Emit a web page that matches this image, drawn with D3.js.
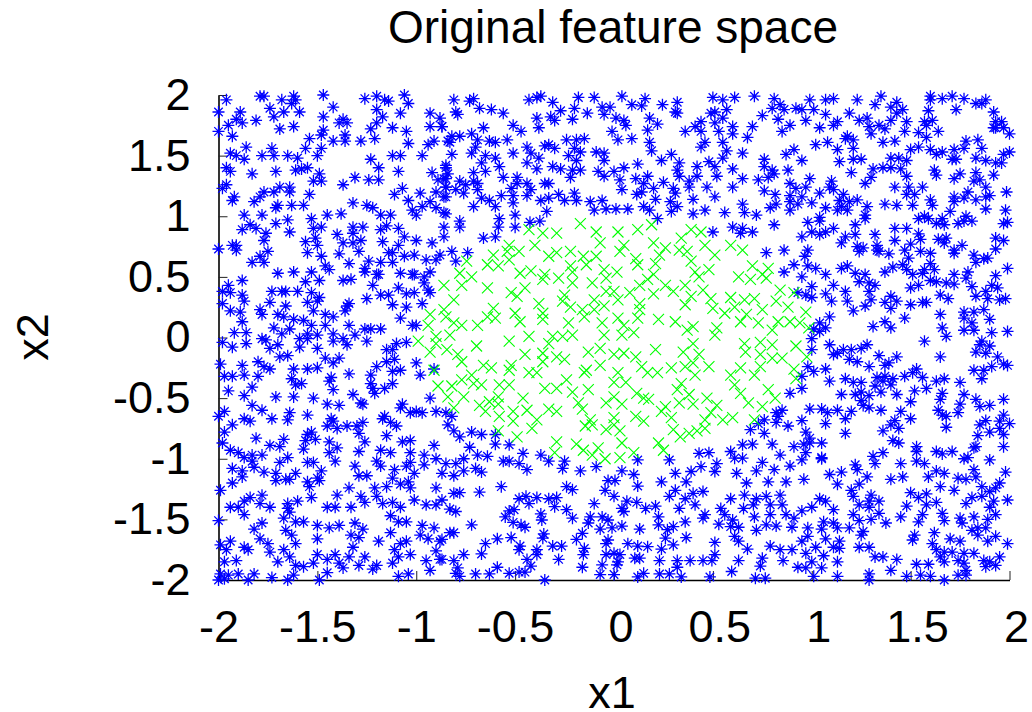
<!DOCTYPE html>
<html><head><meta charset="utf-8">
<script src="https://cdn.jsdelivr.net/npm/d3@7"></script>
<style>html,body{margin:0;padding:0;background:#fff}svg{display:block}text{font-family:"Liberation Sans",Arial,sans-serif;fill:#000}</style>
</head><body><svg id="chart" width="1032" height="712"></svg>
<script>
const titleText="Original feature space", xLabel="x1", yLabel="x2";
const tickValues=[-2,-1.5,-1,-0.5,0,0.5,1,1.5,2];
const tickLabels=["-2","-1.5","-1","-0.5","0","0.5","1","1.5","2"];
const greenPoints=[[-.17,.94],[-.09,.87],[.02,.87],[.12,.89],[.19,.93],[.39,.89],[.44,.87],[-.43,.89],[-.36,.86],[-.29,.86],[.34,.82],[.2,.78],[-.07,.78],[-.53,.76],[-.4,.76],[.05,.76],[.46,.76],[.59,.76],
[-.61,.68],[-.48,.71],[-.54,.71],[-.33,.67],[-.29,.7],[-.22,.71],[-.155,.67],[-.09,.67],[.03,.71],[.26,.74],[.23,.68],[.33,.72],[.37,.71],[.51,.68],[.65,.72],
[-.745,.63],[-.64,.6],[-.585,.59],[-.53,.64],[.11,.65],[.12,.6],[.21,.61],[.39,.63],[.7,.59],[-.14,.6],[-.22,.59],
[-.78,.53],[-.72,.5],[-.475,.53],[-.42,.55],[-.35,.52],[-.28,.49],[-.21,.54],[-.05,.56],[.015,.54],[.2,.52],[.41,.54],[.48,.56],[.78,.57],[.75,.52],
[-.86,.43],[-.77,.43],[-.64,.41],[-.45,.41],[-.36,.48],[-.21,.45],[-.11,.45],[-.04,.49],[.17,.48],[.13,.43],[.26,.43],[.43,.5],[.36,.43],[.63,.5],[.69,.48],[.77,.49],
[-.52,.37],[-.49,.34],[-.25,.35],[-.04,.38],[0,.38],[.08,.37],[.2,.36],[.3,.38],[.45,.39],[.84,.39],[.91,.37],[.39,.34],
[-.81,.31],[-.38,.28],[-.26,.3],[-.1,.31],[.02,.31],[.13,.28],[.49,.32],[.59,.33],[.66,.31],[.71,.32],[.36,.27],
[-.61,.24],[-.86,.23],[-.22,.25],[-.16,.23],[-.1,.23],[-.05,.26],[.5,.24],[.61,.25],[.75,.23],[.88,.25],[.82,.3],[.13,.23],
[-.93,.19],[-.64,.17],[-.6,.16],[-.5,.2],[-.36,.2],[-.15,.17],[.02,.16],[.12,.16],[.225,.15],[.56,.2],[.67,.19],[.97,.21],[-.85,.17],
[-.94,.1],[-.81,.12],[-.77,.1],[-.69,.1],[-.475,.13],[-.36,.15],[-.23,.12],[-.06,.12],[.05,.1],[.31,.13],[.4,.09],[.52,.08],[.64,.13],[.73,.12],[.83,.13],[.89,.13],[.94,.12],
[-.83,.02],[-.9,.01],[-.53,-.03],[-.43,.01],[-.31,.01],[-.26,.01],[-.21,.02],[-.05,.02],[.04,.02],[.1,.04],[.37,.06],[.51,.02],[.8,.06],[.985,.08],
[-.99,-.03],[-.9,-.05],[-.695,-.07],[-.33,-.05],[-.07,-.09],[.4,-.05],[.66,-.05],[.74,-.04],[.8,-.06],[.92,-.07],[-.845,-.1],[.21,-.1],
[-.93,-.12],[-.79,-.14],[-.45,-.14],[-.36,-.13],[-.13,-.12],[0,-.14],[.05,-.13],[.35,-.12],[.43,-.14],[.665,-.12],[.74,-.14],[.975,-.16],
[-.77,-.2],[-.29,-.16],[-.25,-.18],[-.36,-.2],[.11,-.16],[.8,-.17],[.85,-.17],[.4,-.21],
[-.91,-.27],[-.66,-.23],[-.62,-.25],[-.52,-.23],[-.53,-.27],[-.07,-.23],[-.14,-.27],[.14,-.24],[.29,-.25],[.36,-.24],[.48,-.24],[.64,-.25],[.74,-.24],[.91,-.26],
[-.72,-.31],[-.43,-.29],[-.39,-.29],[-.15,-.29],[.02,-.29],[.17,-.29],[.22,-.29],[.41,-.31],[.59,-.31],[.71,-.31],[.92,-.34],[-.77,-.35],
[-.24,-.35],[-.89,-.4],[-.82,-.4],[-.71,-.38],[-.67,-.39],[-.58,-.39],[-.53,-.39],[-.35,-.42],[-.29,-.42],[-.21,-.45],[0,-.37],[.06,-.37],[.34,-.38],[.61,-.39],[.32,-.43],
[-.84,-.49],[-.76,-.49],[-.585,-.49],[-.46,-.5],[-.13,-.43],[0,-.49],[.115,-.46],[.15,-.5],[.175,-.51],[.47,-.5],[.64,-.46],[.78,-.43],[.815,-.5],[.38,-.47],
[-.63,-.53],[-.68,-.56],[-.585,-.55],[-.04,-.54],[.04,-.55],[.33,-.54],[.4,-.55],[.52,-.56],[.68,-.54],[.75,-.57],[-.18,-.54],[.26,-.57],[-.81,-.58],
[-.65,-.61],[-.51,-.61],[-.44,-.6],[-.33,-.59],[-.29,-.61],[-.16,-.59],[.24,-.61],[.49,-.62],
[-.58,-.65],[-.51,-.69],[-.39,-.68],[-.12,-.68],[0,-.66],[.11,-.65],[.15,-.69],[.29,-.66],[.46,-.68],[.55,-.68],[.6,-.66],[.71,-.68],
[-.415,-.75],[-.145,-.73],[-.11,-.72],[-.04,-.76],[0,-.72],[.03,-.77],[.3,-.76],[.46,-.75],[.38,-.79],[-.585,-.77],
[-.49,-.82],[.335,-.82],[.42,-.77],[-.29,-.86],[-.19,-.88],[.04,-.87],[.225,-.87],[-.155,-.93],[-.08,-.91],[.25,-.93],[-.3,-.95],[-.11,-.97],[-.045,-1],[.03,-.99],[.1,-.95]];

const blueTopLeft=[[-1.96,1.96],[-1.79,1.99],[-1.77,1.99],[-1.68,1.96],[-1.62,1.99],[-1.61,1.96],[-1.63,1.93],[-1.47,2],[-1.26,1.97],[-1.2,1.99],[-1.16,1.96],[-1.14,1.95],[-1.06,2],[-1.04,1.93],
[-2,1.86],[-1.89,1.86],[-1.74,1.89],[-1.67,1.86],[-1.59,1.86],[-1.42,1.9],[-1.2,1.88],[-1.08,1.85],[-.93,1.85],[-1.91,1.8],[-1.81,1.79],[-1.72,1.82],[-1.47,1.82],[-1.17,1.82],[-.88,1.81],
[-1.95,1.75],[-1.88,1.77],[-1.62,1.74],[-1.69,1.72],[-1.37,1.8],[-1.39,1.77],[-1.35,1.77],[-1.2,1.77],[-1.23,1.72],[-1.12,1.73],[-1.05,1.7],[-.93,1.74],[-.87,1.74],[-2,1.7],[-1.93,1.66],
[-1.47,1.71],[-1.48,1.67],[-1.36,1.67],[-1.54,1.64],[-1.42,1.62],[-1.36,1.62],[-1.28,1.62],[-1.21,1.64],[-1.04,1.6],[-.94,1.59],[-.91,1.62],[-.84,1.62],
[-1.86,1.57],[-1.73,1.56],[-1.56,1.56],[-1.48,1.56],[-1.94,1.52],[-1.91,1.5],[-1.87,1.47],[-1.78,1.5],[-1.72,1.5],[-1.65,1.5],[-1.6,1.48],[-1.5,1.5],[-1.23,1.47],[-1.12,1.5],[-1.08,1.5],[-.97,1.5],
[-1.96,1.4],[-1.94,1.37],[-1.83,1.35],[-1.71,1.37],[-1.61,1.38],[-1.58,1.39],[-1.55,1.4],[-1.49,1.35],[-1.19,1.4],[-1.09,1.37],[-.92,1.36],[-.85,1.4],
[-1.52,1.29],[-1.48,1.29],[-1.37,1.26],[-1.31,1.32],[-1.24,1.3],[-1.19,1.3],[-.89,1.3],[-.85,1.31],
[-1.96,1.26],[-1.98,1.23],[-1.69,1.24],[-1.64,1.24],[-1.64,1.2],[-1.54,1.18],[-1.77,1.2],[-1.72,1.2],[-1.79,1.16],[-1.92,1.16],[-1.93,1.13],[-1.82,1.12],
[-1.07,1.23],[-1.11,1.18],[-1.04,1.13],[-.98,1.19],[-.9,1.2],[-.85,1.16],[-.85,1.24],
[-1.7,1.09],[-1.71,1.07],[-1.63,1.09],[-1.57,1.09],[-1.32,1.11],[-1.25,1.09],[-1.22,1.07],[-.97,1.08],[-.93,1.12],[-1.02,1.05],[-.9,1.07],
[-1.87,1.01],[-1.78,1.01],[-1.53,.98],[-1.45,1.01],[-1.38,1.02],[-1.18,1.01],[-1.13,1.01],[-1,1.01],[-.85,1.02],
[-1.84,.93],[-1.88,.89],[-1.81,.9],[-1.76,.86],[-1.71,.94],[-1.65,.97],[-1.64,.87],[-1.52,.9],[-1.48,.91],[-1.32,.91],[-1.27,.91],[-1.32,.86],[-1.18,.89],[-1.15,.92],[-1.09,.9],[-.86,.91],
[-1.77,.8],[-1.56,.79],[-1.51,.82],[-1.4,.85],[-1.5,.76],[-1.37,.78],[-1.32,.78],[-1.28,.8],[-1.17,.79],[-1.06,.83],[-1,.8],[-1.09,.76],[-.92,.78],[-.86,.83],
[-2,.73],[-1.93,.76],[-1.91,.76],[-1.91,.72],[-1.75,.71],[-1.55,.7],[-1.48,.67],[-1.39,.69],[-1.29,.71],[-1.14,.7],[-1.12,.7],[-1.01,.68],[-1.06,.67],[-.95,.64],[-.88,.68],[-.9,.64],
[-1.83,.62],[-1.79,.67],[-1.77,.62],[-1.34,.61],[-1.24,.63],[-1.18,.62],[-1.12,.62],[-1.46,.59],[-1.26,.57],[-1.7,.53],[-1.62,.54],[-1.53,.54],[-1.44,.56],[-1.2,.52],[-1.08,.53],[-1.02,.52],[-.93,.54]];

const blueLeft=[[-1.49,.47],[-1.37,.47],[-1.33,.48],[-1.26,.54],[-1.19,.52],[-1.01,.52],[-.96,.5],
[-1.88,.47],[-1.95,.43],[-1.98,.38],[-1.88,.35],[-1.94,.37],[-1.73,.38],[-1.68,.38],[-1.66,.38],[-1.6,.38],[-1.56,.46],[-1.53,.37],[-1.49,.33],[-1.22,.43],[-1.18,.35],[-1.14,.35],[-1.09,.41],[-1.05,.36],[-1.01,.37],[-.96,.45],[-.94,.39],[-.93,.37],
[-1.87,.3],[-1.98,.28],[-1.74,.29],[-1.66,.26],[-1.55,.29],[-1.5,.3],[-1.25,.32],[-1.34,.28],[-1.35,.26],[-1.12,.27],[-.97,.28],
[-1.94,.22],[-1.89,.21],[-1.79,.23],[-1.78,.19],[-1.7,.19],[-1.67,.17],[-1.52,.22],[-1.46,.19],[-1.42,.17],[-1.36,.22],[-1.05,.25],[-1.08,.16],
[-1.88,.13],[-1.62,.15],[-1.57,.14],[-1.53,.1],[-1.46,.1],[-1.34,.1],[-1.02,.1],[-1,.1],[-1.72,.08],[-1.64,.07],[-1.26,.07],[-1.23,.07],[-1.18,.07],
[-1.92,.04],[-1.86,.04],[-1.68,.03],[-1.55,.03],[-1.5,.02],[-1.42,.03],[-1.37,-.01],[-1.31,.02],[-1.78,-.01],[-1.86,-.05],[-1.76,-.02],[-1.59,-.01],[-1.55,-.01],
[-1.98,-.04],[-1.93,-.08],[-1.7,-.06],[-1.74,-.09],[-1.59,-.08],[-1.5,-.09],[-1.42,-.03],[-1.35,-.06],[-1.25,-.03],[-1.1,-.05],[-1.05,-.04],[-1.12,-.1],[-1.15,-.1],
[-1.69,-.16],[-1.65,-.15],[-1.46,-.17],[-1.39,-.17],[-1.42,-.21],[-1.15,-.2],[-1.11,-.18],[-1.99,-.22],[-1.88,-.23],[-1.8,-.2],[-1.74,-.26],[-1.77,-.24],
[-1.62,-.26],[-1.55,-.26],[-1.5,-.25],[-1.2,-.24],[-1,-.21],
[-1.97,-.32],[-1.93,-.32],[-1.87,-.31],[-1.8,-.32],[-1.63,-.34],[-1.43,-.33],[-1.34,-.3],[-1.23,-.31],[-1.12,-.28],[-1.08,-.27],[-.98,-.31],[-.91,-.26],
[-1.83,-.41],[-1.95,-.44],[-1.61,-.39],[-1.58,-.38],[-1.44,-.36],[-1.42,-.43],[-1.23,-.38],[-1.22,-.42],[-1.16,-.42],[-1.12,-.38],
[-1.87,-.48],[-1.71,-.49],[-1.62,-.49],[-1.52,-.5],[-1.32,-.47],[-1.21,-.46],[-.93,-.5],
[-1.45,-.55],[-1.39,-.56],[-1.28,-.54],[-1.27,-.55],[-1.83,-.56],[-1.78,-.6],[-1.07,-.55],[-1.08,-.58],
[-1.97,-.61],[-2,-.65],[-1.64,-.62],[-1.55,-.64],[-1.03,-.62],[-1,-.61],[-.97,-.62],[-.9,-.61],
[-1.87,-.67],[-1.84,-.69],[-1.73,-.67],[-1.65,-.68],[-1.43,-.67],[-1.42,-.69],[-1.16,-.65],[-1.17,-.67],[-1.13,-.7],
[-1.93,-.72],[-1.45,-.73],[-1.4,-.75],[-1.35,-.73],[-1.3,-.73],[-1.27,-.7],[-1.1,-.73],
[-1.97,-.78],[-1.53,-.78],[-1.55,-.8],[-1.29,-.79],[-1.15,-.81],
[-1.81,-.83],[-1.67,-.84],[-1.51,-.84],[-1.56,-.85],[-1.98,-.87],[-1.44,-.86],[-1.26,-.86],[-1.03,-.85],[-1.07,-.86],[-.91,-.89],
[-1.74,-.89],[-1.69,-.9],[-1.94,-.93],[-1.57,-.92],[-1.4,-.91],[-1.44,-.95],[-1.29,-.94],[-1.18,-.93],[-1.13,-.95],[-1.03,-.95],
[-1.9,-.95],[-1.87,-.99],[-1.83,-.97],[-1.78,-.97],[-1.65,-.99],[-1.69,-1.03],[-.96,-.97],
[-1.83,-1.02],[-1.82,-1.07],[-1.55,-1.03],[-1.52,-1.03],[-1.41,-1.02],[-1.31,-1.06],[-1.2,-1.02],[-1.18,-1.06],[-1.03,-1.03],[-.96,-1.05],[-.9,-1],
[-1.93,-1.08],[-1.88,-1.1],[-1.77,-1.11],[-1.71,-1.12],[-1.61,-1.12],[-1.48,-1.1],[-1.11,-1.09],[-1.05,-1.06],[-1.01,-1.12],
[-1.88,-1.15],[-1.71,-1.18],[-1.66,-1.17],[-1.64,-1.17],[-1.5,-1.16],[-1.29,-1.14],[-1.25,-1.14],[-1.12,-1.16],
[-1.93,-1.2],[-1.55,-1.19],[-1.49,-1.18],[-1.54,-1.23],[-1.08,-1.21],[-1.04,-1.19],[-1.03,-1.24],
[-1.99,-1.26],[-1.34,-1.24],[-1.21,-1.24],[-1.15,-1.23],[-.9,-1.24],
[-1.78,-1.3],[-1.84,-1.32],[-1.4,-1.3],[-1.53,-1.32],[-1.28,-1.31],[-1.2,-1.31],[-1.01,-1.34],
[-1.87,-1.35],[-1.65,-1.37],[-1.6,-1.35],[-1.26,-1.36],[-1.12,-1.36],[-1.17,-1.37],
[-1.45,-1.4],[-1.41,-1.4],[-1.33,-1.4],[-.95,-1.38],[-.9,-1.38],[-1.08,-1.4]];

const blueBottomLeft=[[-1.94,-1.4],[-1.9,-1.4],[-1.79,-1.37],[-1.74,-1.4],[-1.65,-1.41],[-1.64,-1.44],[-1.87,-1.46],[-2,-1.51],[-1.78,-1.53],[-1.67,-1.49],[-1.61,-1.52],[-1.57,-1.52],[-1.5,-1.55],[-1.44,-1.57],[-1.39,-1.55],[-1.31,-1.53],[-1.27,-1.58],[-1.82,-1.58],[-1.66,-1.59],[-1.63,-1.63],[-1.5,-1.66],[-1.33,-1.63],[-1.29,-1.65],[-1.13,-1.61],[-1.09,-1.52],[-1.05,-1.52],[-1.13,-1.47],[-.98,-1.63],[-.91,-1.57],[-.97,-1.55],[-.94,-1.66],
[-1.94,-1.68],[-1.99,-1.71],[-1.79,-1.66],[-1.75,-1.7],[-1.61,-1.7],[-1.19,-1.68],[-1.05,-1.68],[-1.08,-1.7],[-.88,-1.68],
[-1.87,-1.73],[-1.96,-1.75],[-1.85,-1.75],[-1.74,-1.77],[-1.67,-1.75],[-1.32,-1.73],[-1.11,-1.75],[-.9,-1.76],
[-1.5,-1.79],[-1.41,-1.79],[-1.26,-1.81],[-1.03,-1.79],[-1.09,-1.81],[-1.64,-1.81],[-1.45,-1.83],[-1.34,-1.81],[-.88,-1.83],[-.95,-1.84],
[-1.91,-1.84],[-1.97,-1.85],[-1.7,-1.85],[-1.52,-1.86],[-1.12,-1.86],[-1.2,-1.88],[-1.39,-1.86],[-1.61,-1.88],[-1.57,-1.89],[-1.29,-1.88],[-1.22,-1.91],[-.93,-1.92],[-1.37,-1.9],
[-1.99,-1.95],[-1.95,-1.96],[-1.9,-1.95],[-1.82,-1.95],[-1.73,-1.98],[-1.62,-1.96],[-1.45,-1.94],[-1.04,-1.95],[-1.09,-1.97],[-1.49,-2],[-1.85,-2],[-1.65,-2],[-2,-2],[-1.97,-1.99]];

const blueTopMiddle=[[-.81,1.96],[-.71,1.97],[-.73,1.95],[-.8,1.86],[-.79,1.84],[-.68,1.89],[-.62,1.88],[-.56,1.85],[-.43,1.96],[-.39,1.98],[-.37,1.99],[-.31,1.94],[-.18,1.98],[-.1,1.98],[.04,1.99],[.157,1.97],[.245,1.92],[.32,1.94],[.31,1.86],[.32,1.85],[.5,1.98],[.55,1.96],[.61,1.98],[.71,1.99],[.81,1.97],[.84,1.92],[.86,1.88],
[-.27,1.87],[-.2,1.89],[-.135,1.85],[-.06,1.9],[-.02,1.9],[.09,1.92],[.14,1.91],[-.05,1.84],[-.32,1.82],[-.39,1.81],[-.3,1.79],[-.21,1.8],[.01,1.81],[.05,1.79],[.18,1.81],[.22,1.76],[.49,1.85],[.51,1.86],[.57,1.88],[.51,1.77],[.55,1.81],[.75,1.83],[.83,1.8],[.92,1.89],[.8,1.89],
[-.87,1.74],[-.66,1.73],[-.51,1.75],[-.47,1.7],[-.38,1.73],[-.01,1.7],[.06,1.75],[.17,1.71],[.36,1.7],[.41,1.74],[.44,1.78],[.44,1.7],[.53,1.7],[.6,1.74],[.6,1.68],[.7,1.74],[.85,1.7],[.89,1.75],[.44,1.57],
[-.78,1.66],[-.82,1.66],[-.72,1.68],[-.83,1.61],[-.69,1.63],[-.63,1.62],[-.6,1.61],[-.54,1.63],[-.24,1.63],[-.19,1.63],[-.15,1.64],[.02,1.63],[.09,1.64],[.18,1.61],[.46,1.61],[.55,1.61],[.675,1.65],
[-.7,1.57],[-.72,1.52],[-.82,1.51],[-.44,1.57],[-.35,1.58],[-.33,1.59],[-.3,1.56],[-.2,1.56],[.19,1.54],[-.09,1.53],[-.05,1.52],[-.23,1.5],[-.17,1.53],[-.51,1.52],[.29,1.51],[.57,1.54],[.65,1.52],[.87,1.51],[.91,1.55],
[-.65,1.5],[-.6,1.48],[-.67,1.44],[-.42,1.52],[-.38,1.48],[-.44,1.44],[-.19,1.46],[-.05,1.46],[.24,1.46],[.48,1.45],[.55,1.48],[.76,1.47],[.33,1.44],[-.85,1.42],
[-.58,1.41],[-.39,1.39],[-.31,1.41],[-.27,1.39],[.12,1.43],[.05,1.4],[.32,1.38],[.42,1.41],[.51,1.41],[.6,1.39],[.76,1.41],[.88,1.38],[-.65,1.37],[-.71,1.36],[-.17,1.38],[-.21,1.38],[-.08,1.37],[0,1.37],[.8,1.38],
[-.84,1.35],[-.86,1.31],[-.56,1.32],[-.49,1.32],[-.22,1.32],[-.05,1.33],[.03,1.3],[.11,1.31],[.17,1.33],[.33,1.33],[.42,1.33],[.52,1.33],[.65,1.31],[.78,1.32],[.81,1.35],[.73,1.3],
[-.78,1.29],[-.69,1.27],[-.71,1.29],[-.49,1.27],[-.44,1.27],[-.35,1.27],[-.33,1.27],[-.75,1.26],[-.85,1.24],[.15,1.27],[.25,1.28],[.38,1.29],[.38,1.24],[.89,1.27],
[-.8,1.22],[-.76,1.19],[-.69,1.22],[-.52,1.23],[-.42,1.22],[.04,1.22],[.2,1.23],[.3,1.23],[.47,1.24],[.6,1.24],[.76,1.21],[.92,1.23],
[-.86,1.16],[-.67,1.15],[-.63,1.13],[-.57,1.17],[-.51,1.17],[-.44,1.17],[-.28,1.18],[-.2,1.19],[.115,1.18],[.14,1.2],[.31,1.19],[.51,1.16],[.815,1.18],[.89,1.17],
[-.37,1.13],[-.33,1.15],[-.25,1.13],[-.19,1.13],[-.12,1.12],[-.06,1.13],[.21,1.14],[.285,1.12],[.4,1.14],[.89,1.12],[.93,1.1],
[-.71,1.08],[-.6,1.08],[-.51,1.11],[-.04,1.06],[.01,1.06],[.07,1.06],[.15,1.08],[.32,1.08],[.65,1.1],[.79,1.07],[.82,1.1],
[-.86,1.03],[-.34,1.04],[-.1,1.05],[.18,1.05],[.29,1.04],[.46,1.05],[.4,1.02],[.56,1.03],[.66,1.03],[.72,1.01],[.89,1.05],
[-.5,1.01],[-.58,.98],[-.78,.96],[.22,.98],[-.425,.95],[-.375,.96],[-.78,.91],[-.585,.91],[-.5,.91],[.6,.91],[.65,.9],[.81,.93]];

const blueTopRight=[[.99,1.96],[1.07,1.96],[1.11,1.97],[1.23,1.96],[1.35,1.99],[1.32,1.92],[1.43,1.94],[1.4,1.9],[1.6,1.99],[1.6,1.96],[1.66,1.97],[1.71,1.99],[1.77,1.97],[1.83,1.93],[1.86,1.93],[1.88,1.96],[1.73,1.88],[1.59,1.87],[1.92,1.86],
[.95,1.88],[1.01,1.88],[1.07,1.84],[1.19,1.85],[1.43,1.85],[1.46,1.88],[.97,1.79],[1.13,1.78],[1.24,1.79],[1.28,1.81],[1.48,1.78],[1.4,1.79],[1.57,1.78],[1.61,1.79],[1.93,1.78],[1.96,1.78],
[1.04,1.73],[1.11,1.75],[1.34,1.75],[1.29,1.74],[1.37,1.72],[1.58,1.75],[1.93,1.73],[1.97,1.73],[1.92,1.73],[1.54,1.69],[1.64,1.7],[1.47,1.7],[2,1.68],[1.3,1.68],
[1.18,1.66],[1.17,1.64],[1.21,1.63],[1.58,1.65],[1.78,1.62],[1.84,1.63],[1.36,1.61],[1.42,1.62],[1.02,1.59],[1.08,1.61],
[1.21,1.56],[1.13,1.55],[1.5,1.55],[1.54,1.57],[1.6,1.55],[1.66,1.53],[1.63,1.51],[1.72,1.55],[1.77,1.56],[1.86,1.56],[2,1.53],[1.97,1.51],
[1.14,1.45],[1.21,1.47],[1.25,1.47],[.95,1.46],[1.4,1.48],[1.44,1.48],[1.48,1.46],[1.71,1.47],[1.73,1.47],[1.83,1.48],[1.88,1.46],[1.93,1.44],[1.96,1.44],
[1.31,1.39],[1.36,1.4],[1.4,1.4],[1.45,1.39],[1.2,1.36],[1.62,1.38],[1.63,1.34],[1.48,1.33],[1.75,1.35],[1.83,1.36],[1.92,1.34],[1.3,1.32],[1.72,1.31],[.99,1.31],[1.85,1.3],
[1.27,1.27],[1.1,1.29],[.97,1.24],[1.09,1.24],[1.11,1.22],[1.42,1.24],[1.49,1.24],[1.56,1.24],[1.82,1.29],[1.88,1.24],[1.985,1.2],
[1.04,1.19],[1.16,1.18],[.95,1.16],[1.14,1.13],[1.48,1.18],[1.52,1.18],[1.79,1.2],[1.72,1.16],[1.77,1.15],[1.88,1.16],[1.9,1.17],[1.83,1.135],
[1,1.11],[1.23,1.135],[1.19,1.12],[1.6,1.135],[1.37,1.1],[1.43,1.09],[1.51,1.09],[1.61,1.09],[1.72,1.12],
[1.07,1.07],[1.15,1.08],[1.28,1.08],[1.13,1.05],[1.18,1.05],[1.27,1.01],[1.7,1.04],[1.88,1.06],[1.98,1.05],
[1.04,.99],[1.27,.98],[1.54,.98],[1.57,1],[1.59,.98],[1.66,.98],[1.78,1],[.98,.95],[1.04,.96],[1.22,.93],[1.63,.94],[1.67,.93],[1.74,.94],[1.81,.96],[1.77,.96],[1.97,.94],[1.99,.95],
[1.11,.9],[1.42,.9],[1.48,.9],[1,.87],[1.04,.85],[1.07,.87],[1.22,.85],[1.32,.85],[1.54,.855],[.95,.83],
[1.17,.83],[1.55,.81],[1.42,.8],[1.64,.81],[1.68,.82],[1.93,.82],[1.97,.8],
[1.15,.78],[1.33,.76],[1.5,.77],[1.67,.78],[1.76,.76],[1.23,.75],[1.26,.74],[.98,.72],[1.93,.73],[1.72,.72],
[1.24,.71],[1.33,.72],[1.34,.71],[1.39,.69],[1.47,.72],[1.55,.71],[1.6,.695],[1.82,.68],[.965,.67],[1.49,.655],[1.72,.695],
[1.87,.65],[1.83,.62],[1.89,.655],[1.6,.61],[1.41,.58],[1.46,.6],[.98,.59],[1.02,.57],[1.18,.59],[1.15,.57],[1.99,.57],[1.62,.56],[1.57,.56],[1.79,.54],[1.48,.56],[1.37,.54],[1.22,.53],[1.51,.52],[1.07,.52],[1.27,.52],[1.72,.52],[1.93,.51],[1.56,.53],[.95,.5]];

const blueRight=[[1.24,.46],[1.29,.45],[1.32,.43],[1.6,.47],[1.63,.46],[1.68,.45],[1.72,.44],[1.78,.49],[1,.42],[1.11,.43],[1.5,.41],[1.54,.43],[1.81,.42],[1.91,.43],[1.94,.41],[1.88,.38],
[.97,.35],[1.07,.36],[1.17,.38],[1.29,.38],[1.65,.35],[1,.33],[1.83,.34],[1.89,.32],[1.98,.32],[1.4,.34],[1.69,.32],[1.95,.31],
[1.1,.3],[1.18,.3],[1.37,.29],[1.43,.3],[1.3,.31],[1.56,.29],[1.58,.29],[1.5,.27],[1.27,.26],[1.4,.24],[1.21,.22],
[1.77,.21],[1.82,.21],[1.87,.23],[1.65,.19],[1.09,.17],[1.77,.16],[1.9,.15],[1.47,.16],[1.37,.13],[1.04,.12],
[1.81,.12],[1.07,.08],[1.01,.07],[1.04,.05],[1.31,.09],[1.4,.08],[1.66,.08],[1.77,.06],[1.82,.06],[1.91,.04],[1.99,.05],[1.68,.01],
[1,-.01],[1.57,-.03],[1.86,-.03],[1.85,-.06],[1.09,-.06],[1.28,-.06],[1.25,-.09],[1,-.1],[1.16,-.1],[1.2,-.1],[1.9,-.07],[1.83,-.12],[1.88,-.13],
[1.11,-.14],[1.13,-.13],[1.34,-.15],[1.43,-.16],[1.65,-.16],[1.94,-.16],[1.19,-.18],[1.23,-.2],[1.39,-.21],[1.37,-.23],[1.29,-.24],[.98,-.24],[1.97,-.22],[1.99,-.23],[1.91,-.24],
[1.07,-.26],[1.01,-.28],[1.53,-.26],[1.82,-.27],[1.87,-.27],[1.51,-.29],
[.95,-.32],[1.17,-.34],[1.33,-.33],[1.37,-.32],[1.41,-.34],[1.47,-.32],[1.56,-.33],[1.67,-.34],[1.86,-.34],[1.09,-.36],[1.75,-.37],[1.63,-.36],[1.21,-.37],[1.25,-.37],[1.36,-.36],
[.95,-.42],[1.32,-.4],[1.4,-.39],[1.58,-.42],[1.52,-.44],[1.35,-.45],[1.66,-.46],[1.15,-.47],[1.22,-.47],[1.25,-.45],[1.29,-.48],[1.43,-.47],[1.77,-.47],[1.65,-.51],
[1.25,-.52],[1.5,-.53],[1.83,-.51],[1.97,-.51],[1.75,-.55],[1.26,-.56],[1.85,-.57],[1.9,-.56],[1.29,-.58],[.99,-.59],[1.05,-.59],[1.35,-.6],[1.64,-.6],[1.45,-.61],
[1.08,-.62],[1.13,-.6],[1.2,-.61],[1.74,-.62],[1.17,-.67],[1.5,-.67],[1.66,-.64],[1.68,-.65],[1.97,-.64],
[1.42,-.685],[1.88,-.685],[1.95,-.69],[2,-.71],[.95,-.685],[1.07,-.71],[1.4,-.72],[1.85,-.72],[1.44,-.75],[1.68,-.74],[1.95,-.75],[1.36,-.77],
[1.9,-.78],[.97,-.78],[1.17,-.79],[1.97,-.8],[1.84,-.81],[.99,-.83],[1.41,-.85],[1.44,-.87],[.99,-.87],[1.05,-.87],[.96,-.88],
[1.97,-.9],[1.53,-.9],[1.83,-.9],[1.82,-.91],[1.53,-.94],[1.63,-.94],[1.66,-.96],[1.71,-.94],[1.36,-.95],[.97,-.95],[1.31,-.98],
[1.79,-.99],[1.77,-1],[1.05,-.99],[1.05,-1],[1.9,-1.01],[.95,-1.01],[1.22,-1.05],[1.32,-1.04],[1.45,-1.04],[1.53,-1.02],[1.57,-1.04],
[1.23,-1.09],[1.82,-1.09],[1.63,-1.1],[1.67,-1.12],[1.98,-1.11],[1.15,-1.11],[1.09,-1.13],[1.28,-1.15],[1.59,-1.15],[1.74,-1.16],[1.78,-1.17],[1.83,-1.15],[1.46,-1.15],[1.4,-1.17],[.96,-1.17],
[1.13,-1.21],[1.24,-1.21],[1.95,-1.2],[1.65,-1.23],[1.86,-1.23],[1.93,-1.24],[1.2,-1.26],[1.72,-1.26],[1.9,-1.27],[1.5,-1.28],
[1.21,-1.31],[1.3,-1.3],[1.54,-1.32],[1.58,-1.29],[1.81,-1.32],[1.86,-1.31],[1.04,-1.33],[1.07,-1.35],[1.29,-1.35],[1.34,-1.35],[1.63,-1.36],[1.58,-1.38],[1.78,-1.37],[1.99,-1.34],[1.92,-1.35]];

const blueBottomRight=[[1,-1.4],[1.11,-1.42],[1.24,-1.38],[1.29,-1.4],[1.48,-1.39],[1.9,-1.4],[.95,-1.43],
[1.21,-1.46],[1.34,-1.45],[1.45,-1.48],[1.56,-1.46],[1.66,-1.45],[1.82,-1.48],[1.93,-1.46],
[1.06,-1.52],[1.11,-1.53],[1.24,-1.51],[1.3,-1.5],[1.375,-1.53],[1.54,-1.52],[1.67,-1.51],[1.75,-1.49],[1.76,-1.53],[1.89,-1.5],
[.98,-1.57],[1.05,-1.58],[1.13,-1.57],[1.19,-1.57],[1.26,-1.6],[1.84,-1.57],[1.88,-1.57],[1.81,-1.59],[1.62,-1.61],
[.98,-1.64],[1.07,-1.66],[1.25,-1.63],[1.52,-1.63],[1.51,-1.67],[1.84,-1.63],[1.93,-1.64],[1.7,-1.66],[1.75,-1.68],[1.89,-1.68],[1.99,-1.7],[1.61,-1.7],[.95,-1.68],
[1.02,-1.73],[1.14,-1.68],[1.14,-1.74],[1.24,-1.73],[1.29,-1.73],[1.11,-1.73],[1.63,-1.75],[1.67,-1.77],[1.71,-1.77],[1.77,-1.78],[1.82,-1.78],
[1.06,-1.8],[.97,-1.78],[1.32,-1.81],[1.36,-1.81],[1.43,-1.83],[1.65,-1.81],[1.74,-1.84],[1.95,-1.81],[1.87,-1.84],[1.9,-1.85],
[1,-1.85],[1.13,-1.85],[1.53,-1.87],[1.59,-1.87],[1.67,-1.85],[1.77,-1.86],[1.93,-1.88],[1.88,-1.89],
[1.05,-1.9],[.97,-1.9],[1.4,-1.92],[1.29,-1.95],[1.78,-1.92],[1.01,-1.97],[1.13,-1.97],[1.48,-1.97],[1.55,-1.96],[1.6,-1.97],[1.29,-2],[1.67,-2],[1.74,-1.96],[1.78,-1.96]];

const blueBottomMiddle=[[-.73,-.905],[-.6,-.88],[-.53,-.885],[-.69,-.97],[-.64,-.98],[-.46,-.955],[-.37,-.97],[-.33,-1.02],[-.25,-1.02],[-.85,-1.04],[-.8,-1.04],[-.76,-1],[-.56,-1.02],[-.53,-1.02],[-.48,-1.04],[.12,-1.01],[.28,-1.01],[.43,-.955],[.48,-.95],[.59,-.94],[.65,-.885],[.7,-.88],[.8,-.88],[.91,-.9],[.84,-.97],[.61,-.995],[.65,-.995],
[-.87,-1.12],[-.76,-1.1],[-.7,-1.08],[-.67,-1.11],[-.81,-1.14],[-.44,-1.09],[-.26,-1.08],[-.17,-1.1],[-.09,-1.065],[.04,-1.1],[.1,-1.13],[.31,-1.12],[.39,-1.105],[.44,-1.065],[.51,-1.105],[.52,-1.04],[.62,-1.12],[.72,-1.1],[.75,-1.03],[.81,-1.09],[.89,-1.06],
[-.57,-1.23],[-.24,-1.23],[-.21,-1.255],[-.03,-1.18],[.005,-1.18],[-.045,-1.26],[.12,-1.225],[.24,-1.19],[.365,-1.19],[.31,-1.26],[.45,-1.27],[.4,-1.285],[.67,-1.2],[.78,-1.19],[.87,-1.19],
[-.81,-1.285],[-.78,-1.28],[-.68,-1.275],[-.87,-1.34],[-.48,-1.33],[-.445,-1.31],[-.39,-1.32],[-.33,-1.33],[-.29,-1.32],[0,-1.31],[-.43,-1.37],[-.1,-1.37],[.28,-1.31],[.36,-1.33],[.59,-1.33],[.66,-1.3],[.72,-1.33],[.84,-1.3],[.77,-1.31],
[-.3,-1.395],[.115,-1.36],[.065,-1.35],[.16,-1.41],[.21,-1.39],[.41,-1.38],[.79,-1.38],[.85,-1.38],[.655,-1.41],[.705,-1.38],[.54,-1.41],[.04,-1.41],[.33,-1.41],
[-.83,-1.415],[-.8,-1.435],[-.53,-1.43],[-.505,-1.42],[-.24,-1.42],[.05,-1.435],[.225,-1.48],[.46,-1.46],[.56,-1.46],[.79,-1.46],[.87,-1.46],
[-.55,-1.48],[-.37,-1.455],[-.365,-1.505],[-.21,-1.49],[-.12,-1.48],[-.06,-1.48],[-.03,-1.505],[.36,-1.52],[.45,-1.49],[.6,-1.505],[.71,-1.48],[.91,-1.49],[-.13,-1.53],
[-.72,-1.545],[-.51,-1.525],[-.47,-1.545],[-.45,-1.565],[.04,-1.555],[.13,-1.58],[-.07,-1.58],[.225,-1.545],[.3,-1.56],[.53,-1.54],[.59,-1.56],[.63,-1.565],[.77,-1.545],[.82,-1.555],[.9,-1.565],[-.01,-1.57],[.72,-1.59],
[-.83,-1.61],[-.81,-1.61],[-.355,-1.62],[-.16,-1.615],[.27,-1.585],[.61,-1.64],
[-.87,-1.665],[-.59,-1.66],[-.52,-1.65],[-.36,-1.655],[-.19,-1.665],[-.03,-1.67],[.26,-1.655],[.365,-1.65],
[-.65,-1.7],[-.475,-1.72],[-.31,-1.72],[-.265,-1.72],[-.04,-1.7],[.07,-1.7],[.12,-1.72],[.17,-1.725],[.3,-1.71],[.51,-1.69],[.63,-1.68],[.79,-1.72],[-.15,-1.74],
[-.67,-1.785],[-.76,-1.79],[-.48,-1.75],[-.39,-1.75],[-.39,-1.79],[-.155,-1.79],[-.04,-1.79],[0,-1.78],[.03,-1.79],[.24,-1.745],[.51,-1.79],[.675,-1.745],[.84,-1.75],[.9,-1.75],
[-.87,-1.83],[-.81,-1.84],[-.44,-1.83],[-.28,-1.83],[.105,-1.82],[.13,-1.82],[.23,-1.84],[.32,-1.84],[.385,-1.84],[.45,-1.84],[.495,-1.84],[.63,-1.84],[.75,-1.82],[.855,-1.84],[.02,-1.85],
[-.42,-1.885],[-.16,-1.895],[-.06,-1.875],[.015,-1.875],[-.79,-1.9],[-.59,-1.895],[.32,-1.895],[.74,-1.885],[.93,-1.895],
[-.8,-1.945],[-.7,-1.95],[-.63,-1.95],[-.53,-1.945],[-.48,-1.935],[-.45,-1.935],[-.07,-1.955],[0,-1.955],[.15,-1.945],[.23,-1.95],[.28,-1.95],[.595,-1.93],
[-.35,-2],[.12,-1.975],[.34,-1.975],[.485,-1.975],[.715,-1.985],[.765,-1.985],[-.78,-1.97]];

const blueRing=[[-.82,.71],[-.74,.7],[-.66,.82],[-.6,.83],[-.8,.63],
[.5,.87],[.64,.86],[.7,.87],[.77,.7],[.86,.72],[.91,.6],[.86,.54],[.93,.37],
[.89,-.46],[.85,-.6],[.82,-.62],[.83,-.65],[.76,-.68],[.73,-.71],[.69,-.76],[.76,-.79],[.82,-.7],[.88,-.73],
[-.85,-.62],[-.82,-.65],[-.84,-.72],[-.81,-.77],[-.78,-.82],[-.72,-.78],[-.67,-.8],[-.6,-.8]];

const bluePoints=[...blueTopLeft,...blueLeft,...blueBottomLeft,...blueTopMiddle,...blueTopRight,...blueRight,...blueBottomRight,...blueBottomMiddle,...blueRing];

const svg=d3.select("#chart");
const x=d3.scaleLinear().domain([-2,2]).range([218.5,1009.5]);
const y=d3.scaleLinear().domain([-2,2]).range([580,95]);
const FONT=45;

const starR=6, timesR=5.5, d=starR*Math.SQRT1_2;
const starPath=`M${-starR},0H${starR}M0,${-starR}V${starR}M${-d},${-d}L${d},${d}M${-d},${d}L${d},${-d}`;
const timesPath=`M${-timesR},${-timesR}L${timesR},${timesR}M${-timesR},${timesR}L${timesR},${-timesR}`;

function drawAxis(axis,tx,ty){
  const g=svg.append("g").attr("transform",`translate(${tx},${ty})`).call(axis);
  g.select(".domain").attr("stroke","#000").attr("stroke-width",1.6);
  g.selectAll(".tick line").attr("stroke","#222").attr("stroke-width",1);
  g.selectAll(".tick text").attr("font-size",FONT).attr("font-family",'"Liberation Sans",Arial,sans-serif').attr("fill","#000");
  return g;
}
const labelOf=v=>tickLabels[tickValues.indexOf(v)];
const gx=drawAxis(d3.axisBottom(x).tickValues(tickValues).tickFormat(labelOf).tickSizeInner(-9).tickSizeOuter(0).tickPadding(30),0,580);
gx.selectAll(".tick text").attr("dx",v=>v>=0?6.5:0);
drawAxis(d3.axisLeft(y).tickValues(tickValues).tickFormat(labelOf).tickSizeInner(-9).tickSizeOuter(0).tickPadding(28),218.5,0);

svg.append("g").selectAll("path").data(bluePoints).join("path")
  .attr("d",starPath).attr("transform",p=>`translate(${x(p[0])},${y(p[1])})`)
  .attr("fill","none").attr("stroke","#0000ff").attr("stroke-width",1.3);
svg.append("g").selectAll("path").data(greenPoints).join("path")
  .attr("d",timesPath).attr("transform",p=>`translate(${x(p[0])},${y(p[1])})`)
  .attr("fill","none").attr("stroke","#00ff00").attr("stroke-width",1.1);

svg.append("text").attr("x",613).attr("y",43).attr("text-anchor","middle").attr("font-size",46).text(titleText);
svg.append("text").attr("x",612).attr("y",708).attr("text-anchor","middle").attr("font-size",FONT).text(xLabel);
svg.append("text").attr("transform","translate(48,337) rotate(-90)").attr("text-anchor","middle").attr("font-size",FONT).text(yLabel);
</script></body></html>
